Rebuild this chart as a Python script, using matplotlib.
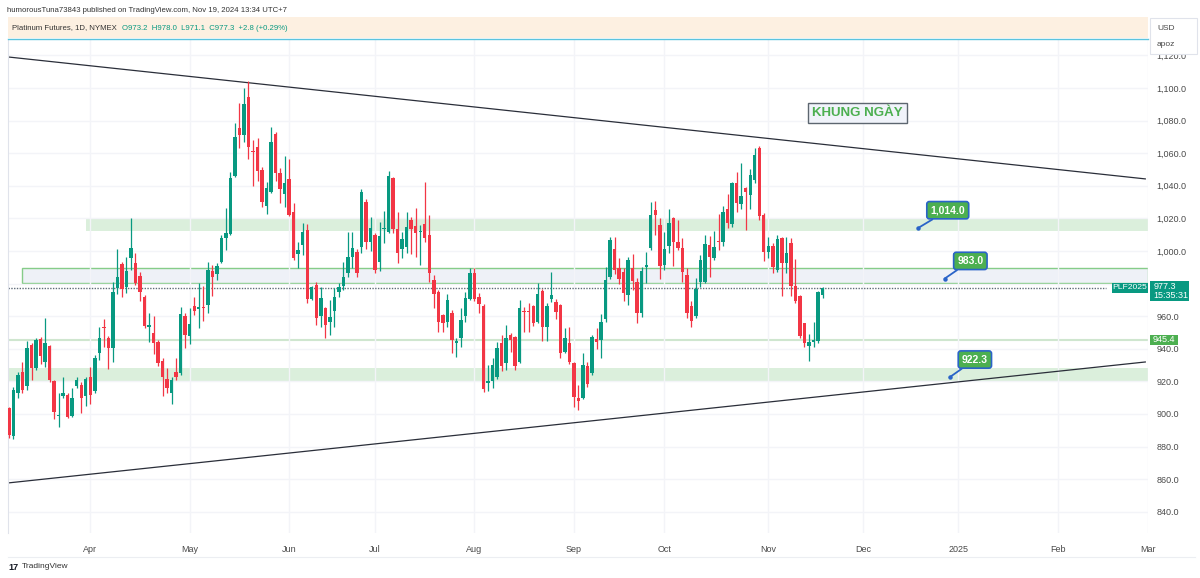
import numpy as np
import pandas as pd
import matplotlib
matplotlib.use('Agg')
import matplotlib.pyplot as plt
from matplotlib.patches import Rectangle
from matplotlib.lines import Line2D
from matplotlib.transforms import blended_transform_factory

plt.rcParams['font.family'] = ['Liberation Sans', 'DejaVu Sans']

# Platinum Futures daily bars (PLF2025), last bar = Nov 19 2024
opens = [903.5, 886.5, 913.1, 926.0, 917.2, 942.3, 928.0, 945.8, 932.1, 941.7,
         920.4, 898.8, 911.0, 911.6, 898.8, 917.2, 917.8, 911.0, 922.9, 914.3,
         937.6, 953.2, 946.8, 940.7, 977.1, 992.0, 977.7, 995.5, 992.9, 984.7,
         971.6, 953.6, 949.5, 944.4, 932.7, 921.3, 913.1, 926.0, 925.0, 960.1,
         947.9, 966.3, 964.6, 965.8, 966.9, 987.9, 985.9, 993.5, 1007.8, 1010.4,
         1046.0, 1075.3, 1071.2, 1094.7, 1061.6, 1063.6, 1049.7, 1027.6, 1036.4, 1071.8,
         1048.1, 1035.0, 1044.0, 1024.2, 998.2, 1003.7, 1012.9, 970.4, 979.2, 960.1,
         964.9, 956.7, 963.4, 975.1, 978.5, 986.7, 996.5, 999.6, 1002.7, 1030.3,
         1005.7, 1009.8, 993.5, 1013.3, 1011.9, 1044.6, 1013.3, 1001.1, 1002.3, 1019.1,
         1015.4, 1011.9, 1016.6, 1009.8, 982.2, 975.1, 960.8, 956.7, 961.8, 943.4,
         946.5, 960.2, 970.4, 986.7, 971.5, 966.2, 919.2, 920.4, 922.9, 943.3,
         931.0, 948.4, 947.4, 932.1, 963.1, 963.1, 966.2, 956.6, 975.6, 953.1,
         970.3, 968.9, 966.8, 938.2, 943.7, 931.4, 909.8, 909.6, 929.4, 924.9,
         945.8, 945.4, 958.0, 983.9, 1001.1, 989.4, 987.4, 973.0, 989.4, 981.2,
         962.2, 990.4, 1001.7, 1025.2, 1016.0, 991.5, 1003.1, 1020.1, 1005.2, 1001.7,
         985.3, 966.3, 960.2, 981.2, 981.2, 1003.7, 995.5, 1006.2, 1005.8, 1025.6,
         1016.5, 1041.9, 1028.8, 1038.4, 1034.3, 1043.5, 1062.9, 1022.1, 999.6, 1003.0,
         988.3, 1007.7, 992.4, 1004.7, 978.5, 972.4, 955.6, 941.7, 944.3, 944.9,
         973.2]
highs = [904.5, 916.8, 926.0, 932.1, 944.8, 943.3, 946.4, 947.4, 959.1, 942.3,
         920.9, 912.7, 922.5, 912.7, 915.7, 922.5, 919.8, 922.9, 928.6, 936.2,
         953.6, 958.1, 947.8, 981.2, 1001.0, 993.5, 996.1, 1020.1, 998.6, 987.3,
         973.0, 961.8, 960.1, 945.4, 934.2, 928.0, 922.9, 934.2, 965.9, 961.8,
         964.8, 971.6, 980.6, 978.5, 993.5, 991.4, 992.9, 1009.8, 1026.2, 1048.7,
         1078.3, 1090.6, 1099.8, 1104.5, 1068.1, 1069.1, 1051.8, 1042.6, 1076.3, 1073.2,
         1050.7, 1058.3, 1056.3, 1029.7, 1005.7, 1017.0, 1016.6, 978.5, 981.2, 978.1,
         965.9, 969.9, 977.1, 980.6, 993.5, 1011.9, 1011.9, 1001.0, 1037.9, 1031.7,
         1021.1, 1010.9, 1018.0, 1024.8, 1049.3, 1045.2, 1024.2, 1011.9, 1024.2, 1021.1,
         1026.2, 1016.0, 1042.6, 1022.1, 985.3, 976.1, 961.4, 973.7, 963.8, 946.5,
         964.9, 975.1, 989.4, 989.4, 974.0, 967.4, 930.0, 934.1, 944.3, 948.4,
         954.5, 949.4, 947.8, 969.9, 965.8, 968.3, 966.8, 980.1, 976.4, 968.3,
         987.3, 970.3, 967.4, 952.5, 953.5, 932.1, 917.7, 937.6, 932.1, 948.4,
         952.5, 961.3, 990.3, 1008.8, 1008.4, 995.5, 989.4, 996.6, 998.2, 983.3,
         990.0, 999.6, 1030.3, 1030.9, 1020.1, 1011.9, 1025.6, 1021.1, 1018.7, 1007.8,
         989.4, 969.0, 983.3, 997.6, 1009.9, 1009.2, 1012.5, 1022.7, 1027.6, 1035.0,
         1042.5, 1048.6, 1053.7, 1039.0, 1050.1, 1062.9, 1064.4, 1023.1, 1008.3, 1004.7,
         1009.8, 1008.8, 1008.3, 1007.7, 994.9, 973.0, 956.0, 949.0, 956.6, 975.6,
         978.0]
lows = [885.1, 884.4, 909.6, 912.7, 914.7, 920.9, 927.0, 930.7, 929.0, 919.8,
        896.7, 892.2, 909.6, 897.3, 898.4, 915.7, 900.8, 904.9, 906.1, 913.1,
        933.1, 941.3, 927.4, 932.1, 973.6, 972.0, 974.5, 988.4, 979.2, 969.5,
        952.6, 944.4, 936.8, 929.5, 911.1, 912.7, 906.1, 920.9, 923.9, 940.3,
        942.9, 960.7, 952.6, 957.3, 961.8, 972.4, 982.2, 992.4, 1000.6, 1009.8,
        1045.2, 1063.0, 1067.1, 1056.3, 1039.9, 1043.2, 1026.8, 1022.7, 1035.4, 1043.2,
        1029.7, 1027.2, 1021.5, 994.5, 989.4, 997.6, 967.9, 970.0, 954.6, 953.6,
        946.4, 948.5, 953.6, 972.0, 976.1, 984.3, 989.4, 984.3, 998.6, 1001.0,
        1000.2, 986.3, 988.0, 1005.1, 1010.9, 1011.3, 992.5, 995.5, 998.6, 998.2,
        996.1, 991.4, 1005.8, 981.2, 964.9, 950.5, 950.5, 953.2, 937.3, 935.2,
        941.3, 956.7, 970.0, 969.0, 961.7, 913.7, 914.3, 915.7, 921.2, 926.5,
        926.9, 938.2, 926.9, 931.0, 950.5, 950.5, 953.9, 955.6, 944.9, 944.9,
        968.9, 958.0, 934.1, 937.2, 930.6, 904.0, 902.4, 909.0, 916.7, 923.9,
        939.6, 934.1, 956.6, 982.7, 985.9, 979.8, 969.0, 966.9, 976.1, 956.1,
        959.7, 980.2, 1000.7, 1009.9, 982.7, 988.4, 999.0, 990.8, 1000.7, 981.2,
        958.7, 953.6, 958.7, 977.7, 980.2, 984.3, 994.5, 1000.7, 1003.1, 1014.0,
        1014.9, 1024.1, 1025.5, 1012.9, 1025.5, 1041.9, 1019.0, 994.0, 995.5, 986.6,
        987.3, 972.4, 986.3, 972.4, 968.3, 946.4, 941.3, 932.7, 941.3, 943.3,
        971.1]
closes = [887.1, 914.7, 923.9, 914.7, 940.3, 928.0, 945.4, 935.6, 943.8, 920.9,
          901.4, 899.4, 913.1, 898.4, 909.6, 920.9, 909.6, 921.3, 911.6, 934.1,
          946.8, 952.6, 940.7, 975.1, 983.9, 976.5, 987.7, 1001.6, 980.6, 975.1,
          954.0, 954.6, 943.8, 931.5, 922.9, 915.8, 920.9, 922.5, 961.4, 948.5,
          955.2, 963.4, 965.4, 964.8, 988.4, 984.3, 990.8, 1007.8, 1011.3, 1044.6,
          1070.2, 1071.2, 1090.0, 1063.6, 1060.8, 1049.3, 1030.3, 1038.5, 1067.1, 1047.7,
          1037.9, 1041.9, 1022.1, 995.5, 1000.6, 1011.9, 970.4, 977.7, 958.7, 971.0,
          954.6, 959.3, 971.6, 977.7, 984.3, 996.5, 1001.6, 986.7, 1036.4, 1005.7,
          1013.9, 988.4, 1009.2, 1013.7, 1046.0, 1013.3, 999.0, 1007.2, 1014.6, 1013.3,
          1010.9, 1012.2, 1007.8, 986.3, 973.7, 956.7, 955.7, 970.0, 945.4, 945.0,
          957.7, 971.0, 986.3, 970.4, 967.4, 915.1, 920.4, 930.0, 940.2, 929.4,
          946.4, 945.4, 929.4, 964.8, 962.3, 962.3, 955.6, 973.6, 953.5, 966.2,
          973.0, 962.7, 937.2, 946.4, 932.1, 910.2, 908.1, 930.0, 918.4, 947.4,
          944.3, 956.6, 982.2, 1006.8, 988.4, 982.7, 974.5, 994.5, 981.8, 961.8,
          988.0, 991.4, 1022.1, 1022.1, 990.8, 1001.1, 1017.0, 1005.8, 1001.7, 986.8,
          961.8, 957.3, 976.5, 994.5, 1004.3, 996.6, 1002.7, 1005.6, 1024.2, 1017.0,
          1041.5, 1029.6, 1033.7, 1036.4, 1046.6, 1058.9, 1021.4, 999.6, 1003.0, 990.0,
          1007.1, 992.4, 998.9, 978.5, 969.5, 947.8, 943.3, 944.3, 945.4, 975.0,
          977.3]

holidays = ['2024-03-29', '2024-05-27', '2024-06-19', '2024-07-04', '2024-09-02',
            '2024-12-25', '2025-01-01']
month_starts = ['2024-04-01', '2024-05-01', '2024-06-01', '2024-07-01', '2024-08-01',
                '2024-09-01', '2024-10-01', '2024-11-01', '2024-12-01', '2025-01-01',
                '2025-02-01', '2025-03-01']
month_labels = ['Apr', 'May', 'Jun', 'Jul', 'Aug', 'Sep', 'Oct', 'Nov', 'Dec', '2025',
                'Feb', 'Mar']
price_ticks = list(range(840, 1121, 20))

# drawings on the chart
zone_1014 = (1012.3, 1020.2)
zone_983 = (980.2, 989.4)
zone_922 = (920.2, 928.2)
level_945 = 945.4
last_price = 977.3
trend_upper = [(-0.2, 1119.0), (251.4, 1044.2)]
trend_lower = [(-0.2, 857.7), (251.4, 931.9)]
notes = [('1,014.0', 201.1, 1014.0, 207.7, 1025.0),
         ('983.0', 207.0, 983.0, 212.7, 993.9),
         ('922.3', 208.1, 922.5, 213.7, 933.4)]

UP = '#089981'
DOWN = '#f23645'

dates = pd.bdate_range(end='2024-11-19', periods=len(closes), freq='C', holidays=holidays)
future = pd.bdate_range(start='2024-11-20', end='2025-03-31', freq='C', holidays=holidays)
all_dates = dates.append(future)
tick_pos = [all_dates.searchsorted(pd.Timestamp(m)) for m in month_starts]

o = np.array(opens); h = np.array(highs); l = np.array(lows); c = np.array(closes)
x = np.arange(len(c))
colors = np.where(c >= o, UP, DOWN)

fig = plt.figure(figsize=(12, 5.78), dpi=100)
ax = fig.add_axes([8 / 1200, 45 / 578, 1140 / 1200, 493 / 578])
ax.set_xlim(-0.2, 251.4)
ax.set_ylim(827.0, 1129.4)

# grid
ax.set_yticks(price_ticks)
ax.set_xticks(tick_pos)
ax.grid(color='#f3f4f8', lw=1)
ax.yaxis.tick_right()
ax.set_yticklabels([f'{p:,.1f}' for p in price_ticks])
ax.set_xticklabels(month_labels)
ax.tick_params(axis='y', length=0, pad=6, labelsize=6.5, labelcolor='#4a4a4a')
ax.tick_params(axis='x', length=0, pad=9, labelsize=6.5, labelcolor='#4a4a4a')
for s in ax.spines.values():
    s.set_visible(False)
ax.spines['left'].set_visible(True)
ax.spines['left'].set_color('#e0e3eb')

# zones / levels
xr = ax.get_xlim()
ax.add_patch(Rectangle((17, zone_1014[0]), xr[1] - 17, zone_1014[1] - zone_1014[0],
                       fc='#4caf50', alpha=0.2, ec='none', zorder=1))
ax.add_patch(Rectangle((2.9, zone_983[0]), xr[1] - 2.9, zone_983[1] - zone_983[0],
                       fc='#eef1f7', ec='#86cc89', lw=1, zorder=1))
ax.add_patch(Rectangle((xr[0], zone_922[0]), xr[1] - xr[0], zone_922[1] - zone_922[0],
                       fc='#4caf50', alpha=0.2, ec='none', zorder=1))
ax.axhline(level_945, color='#cfe6cf', lw=1.5, zorder=1)
ax.plot([xr[0], 242.6], [last_price, last_price], color='#5f6b78', lw=1.0,
        ls=(0, (1, 1)), zorder=2)

# trend lines
ax.plot(*zip(*trend_upper), color='#2a2e39', lw=0.9, zorder=2)
ax.plot(*zip(*trend_lower), color='#2a2e39', lw=0.9, zorder=2)

# candles
ax.vlines(x, l, h, colors=colors, lw=0.9, zorder=3)
body = np.maximum(np.abs(c - o), 0.6)
ax.bar(x, body, bottom=np.minimum(o, c), width=0.76, color=colors, zorder=4)

# notes
for txt, px, py, bx, by in notes:
    ax.annotate(txt, xy=(px, py), xytext=(bx, by), ha='center', va='center',
                color='white', fontsize=7.5, fontweight='bold', zorder=6,
                bbox=dict(boxstyle='round,pad=0.35,rounding_size=0.25', fc='#4caf50',
                          ec='#2a64c8', lw=1.2),
                arrowprops=dict(arrowstyle='-', color='#2a64c8', lw=1.3,
                                shrinkA=0, shrinkB=0))
    ax.plot(px, py, 'o', ms=2.2, color='#2a64c8', zorder=6)

ax.text(187.7, 1084.4, 'KHUNG NGÀY', ha='center', va='center', color='#4caf50',
        fontsize=9.5, fontweight='bold', zorder=6,
        bbox=dict(boxstyle='square,pad=0.3', fc='#f0f3fa', ec='#5d6670', lw=1))

# price tags on the scale
tr = blended_transform_factory(ax.transAxes, ax.transData)
ax.add_patch(Rectangle((1.0018, 969.4), 0.0342, 12.3, transform=tr, fc=UP, ec='none',
                       clip_on=False, zorder=7))
ax.text(1.0045, 978.4, '977.3', transform=tr, color='white', fontsize=6.5,
        va='center', ha='left', zorder=8)
ax.text(1.0045, 972.4, '15:35:31', transform=tr, color='white', fontsize=6.5,
        va='center', ha='left', zorder=8)
ax.add_patch(Rectangle((0.9685, 974.0), 0.0315, 6.5, transform=tr, fc=UP, ec='none',
                       clip_on=False, zorder=7))
ax.text(0.9843, 977.3, 'PLF2025', transform=tr, color='white', fontsize=6.1,
        va='center', ha='center', zorder=8)
ax.add_patch(Rectangle((1.0018, 942.3), 0.0245, 6.2, transform=tr, fc='#4caf50',
                       ec='none', clip_on=False, zorder=7))
ax.text(1.014, 945.4, '945.4', transform=tr, color='white', fontsize=6.5,
        va='center', ha='center', zorder=8)

# header
fig.text(7 / 1200, 1 - 10 / 578, 'humorousTuna73843 published on TradingView.com, Nov 19, 2024 13:34 UTC+7',
         fontsize=5.6, color='#333333', va='center')
fig.patches.append(Rectangle((8 / 1200, 1 - 38 / 578), 1140 / 1200, 21 / 578,
                             transform=fig.transFigure, fc='#fdf0e1', ec='none'))
fig.lines.append(Line2D([8 / 1200, 1148 / 1200], [1 - 39 / 578] * 2,
                        transform=fig.transFigure, color='#5cc3dd', lw=1))
fig.text(12 / 1200, 1 - 28 / 578, 'Platinum Futures, 1D, NYMEX', fontsize=5.6,
         color='#333333', va='center')
fig.text(122 / 1200, 1 - 28 / 578, 'O973.2  H978.0  L971.1  C977.3  +2.8 (+0.29%)',
         fontsize=5.6, color=UP, va='center')

# currency box
fig.patches.append(Rectangle((1150 / 1200, 1 - 54 / 578), 47 / 1200, 36 / 578,
                             transform=fig.transFigure, fc='white', ec='#e0e3eb', lw=0.8))
fig.text(1157 / 1200, 1 - 29 / 578, 'USD', fontsize=6, color='#4a4a4a', va='center')
fig.text(1157 / 1200, 1 - 45 / 578, 'apoz', fontsize=6, color='#4a4a4a', va='center')

# footer
fig.lines.append(Line2D([8 / 1200, 1195 / 1200], [1 - 557 / 578] * 2,
                        transform=fig.transFigure, color='#eceef2', lw=0.8))
fig.text(8 / 1200, 1 - 567 / 578, '17', fontsize=6.5, fontweight='bold', color='#131722',
         va='center')
fig.text(22 / 1200, 1 - 567 / 578, 'TradingView', fontsize=6, color='#333333', va='center')

fig.savefig('out.png', dpi=100, facecolor='white')
